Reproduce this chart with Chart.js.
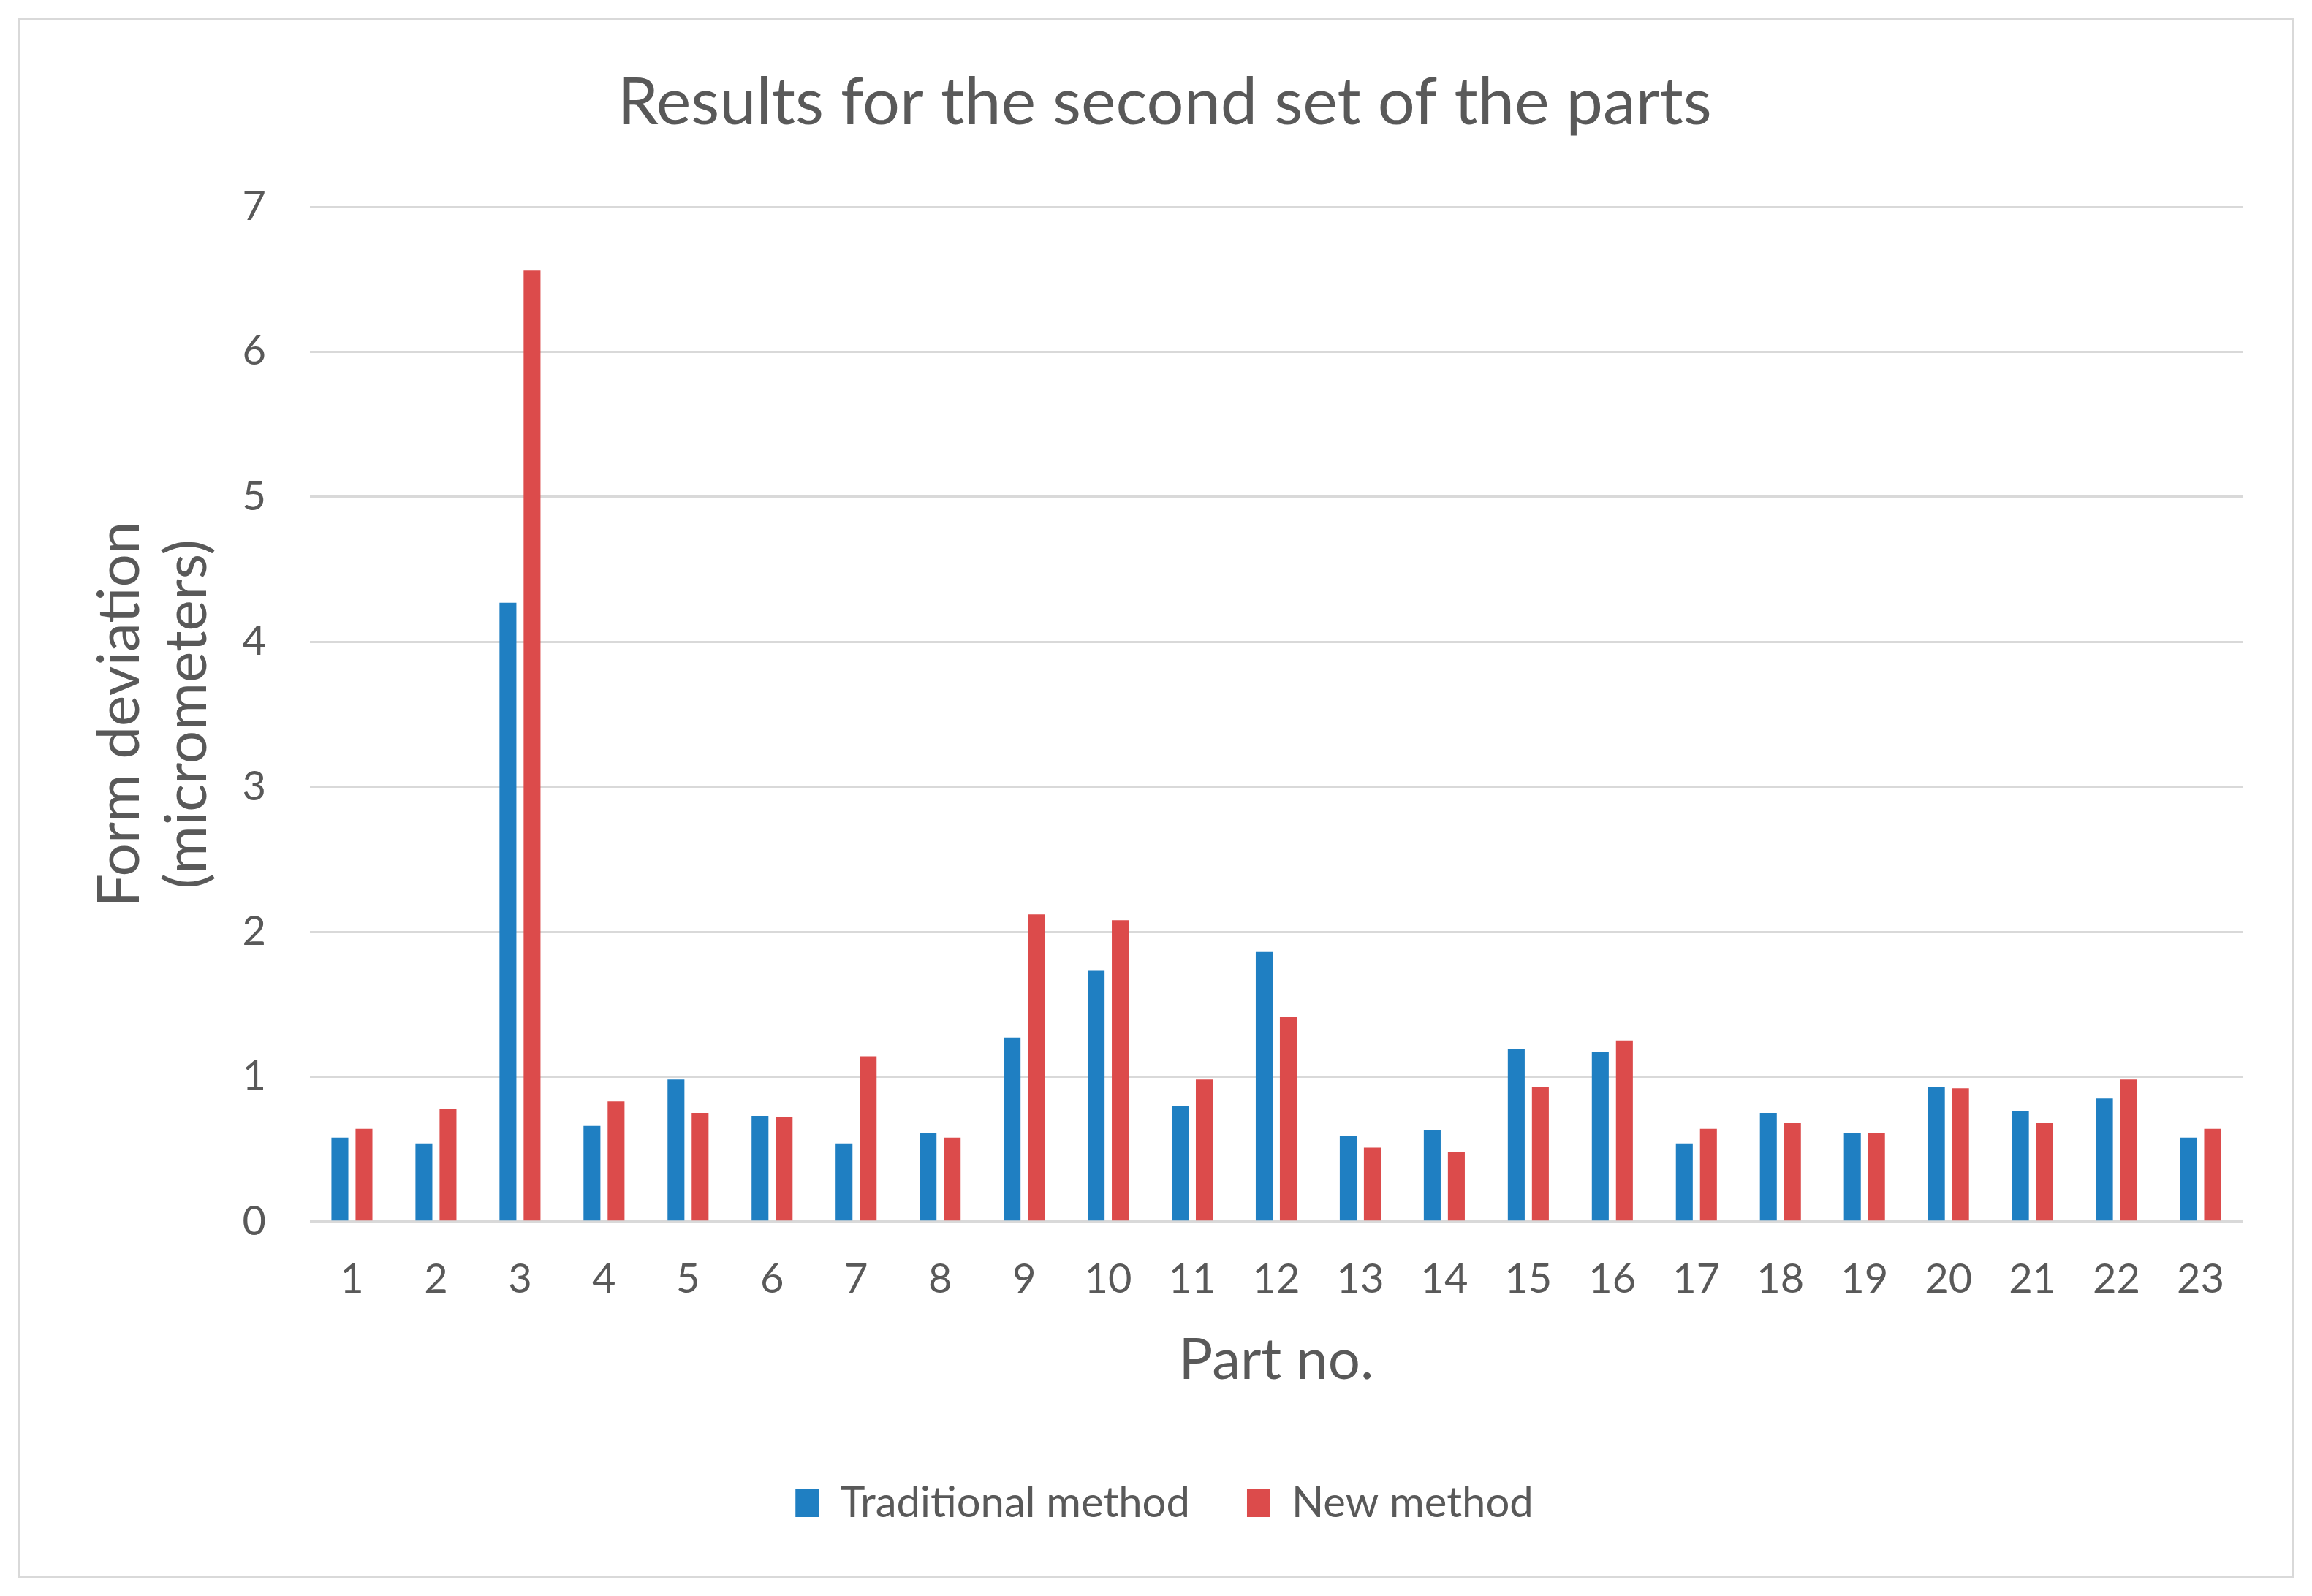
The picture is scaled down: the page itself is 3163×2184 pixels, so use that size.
<!DOCTYPE html>
<html>
<head>
<meta charset="utf-8">
<script src="https://cdn.jsdelivr.net/npm/chart.js@4.4.1/dist/chart.umd.min.js"></script>
<style>
  body { margin: 0; background: #fff; }
  #wrap {
    position: absolute; left: 24px; top: 24px;
    width: 3115px; height: 2136px;
    box-sizing: border-box; border: 4px solid #d9d9d9; background: #fff;
  }
  #wrap canvas { position: absolute; left: 0; top: 0; }
</style>
</head>
<body>
<div id="wrap"><canvas id="myChart" width="3107" height="2128"></canvas></div>
<script>
// part numbers along the x axis
const parts = ['1', '2', '3', '4', '5', '6', '7', '8', '9', '10', '11', '12',
  '13', '14', '15', '16', '17', '18', '19', '20', '21', '22', '23'];

// form deviation, micrometers
const traditional = [0.58, 0.54, 4.27, 0.66, 0.98, 0.73, 0.54, 0.61, 1.27, 1.73, 0.80, 1.86,
  0.59, 0.63, 1.19, 1.17, 0.54, 0.75, 0.61, 0.93, 0.76, 0.85, 0.58];
const newMethod = [0.64, 0.78, 6.56, 0.83, 0.75, 0.72, 1.14, 0.58, 2.12, 2.08, 0.98, 1.41,
  0.51, 0.48, 0.93, 1.25, 0.64, 0.68, 0.61, 0.92, 0.68, 0.98, 0.64];

const yTicks = [0, 1, 2, 3, 4, 5, 6, 7];

const textColor = '#595959';
const gridColor = '#d9d9d9';
const fontFamily = 'Lato, "Open Sans", sans-serif';

Chart.defaults.font.family = fontFamily;
Chart.defaults.color = textColor;

const data = {
  labels: parts,
  datasets: [
    {
      label: 'Traditional method',
      data: traditional,
      backgroundColor: '#1f7fc2',
    },
    {
      label: 'New method',
      data: newMethod,
      backgroundColor: '#dc4b4b',
    },
  ],
};

const config = {
  type: 'bar',
  data: data,
  options: {
    responsive: false,
    animation: false,
    categoryPercentage: 0.574,
    barPercentage: 0.70,
    layout: {
      padding: { left: 90, right: 67, top: 0, bottom: 60 },
    },
    plugins: {
      title: {
        display: true,
        text: 'Results for the second set of the parts',
        font: { size: 90, weight: 'normal' },
        color: textColor,
        padding: { top: 59, bottom: 88 },
      },
      legend: {
        position: 'bottom',
        labels: {
          font: { size: 58 },
          color: textColor,
          boxWidth: 32,
          boxHeight: 38,
          padding: 78,
        },
      },
      tooltip: { enabled: false },
    },
    scales: {
      x: {
        grid: { display: false },
        border: { display: false },
        ticks: { font: { size: 56 }, color: textColor, padding: 38 },
        title: {
          display: true,
          text: 'Part no.',
          font: { size: 78, lineHeight: 1.0 },
          color: textColor,
          padding: { top: 0, bottom: 49 },
        },
      },
      y: {
        min: 0,
        max: 7,
        afterBuildTicks: (axis) => {
          axis.ticks = yTicks.map((v) => ({ value: v }));
        },
        // fixed axis width so the plot starts where the reference does
        afterFit: (axis) => {
          axis.width = 306;
        },
        grid: { color: gridColor, lineWidth: 3, drawTicks: false },
        border: { display: false },
        ticks: { font: { size: 56 }, color: textColor, padding: 60 },
        title: {
          display: true,
          text: ['Form deviation', '(micrometers)'],
          font: { size: 80, lineHeight: 1.15 },
          color: textColor,
          padding: { top: 0, bottom: 0 },
        },
      },
    },
  },
};

var ctx = document.getElementById('myChart');
var myChart = new Chart(ctx, config);
</script>
</body>
</html>
